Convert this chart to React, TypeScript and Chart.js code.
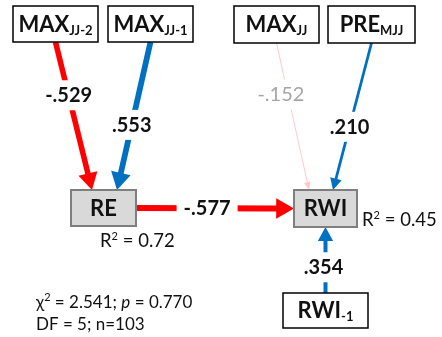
import { useEffect, useRef } from "react";
import { Chart, registerables } from "chart.js";

Chart.register(...registerables);

// ---- model data ----
const nodeNames = ["MAX", "MAX", "MAX", "PRE", "RE", "RWI", "RWI"];
const nodeSubscripts = ["JJ-2", "JJ-1", "JJ", "MJJ", "", "", "-1"];
const nodeEndogenous = [false, false, false, false, true, true, false];

const pathFrom = [0, 1, 2, 3, 4, 6];
const pathTo = [4, 4, 5, 5, 5, 5];
const pathCoefficients = [-0.529, 0.553, -0.152, 0.21, -0.577, 0.354];
const pathSignificant = [true, true, false, true, true, true];

const rSquaredNodes = [4, 5];
const rSquaredValues = [0.72, 0.45];

const fitChiSquare = 2.541;
const fitPValue = 0.77;
const fitDegreesOfFreedom = 5;
const fitSampleSize = 103;

// ---- layout (axis units) ----
const WIDTH = 442;
const HEIGHT = 337;
const boxCx = [55.5, 150.5, 276.5, 371.5, 103.5, 325.5, 325.5];
const boxCy = [24, 24, 24.5, 24.5, 208, 208.5, 310.5];
const boxW = [85, 85, 85, 87, 65, 63, 85];
const boxH = [36, 36, 37, 37, 36, 37, 35];
const pathExit = ["bottom", "bottom", "bottom", "bottom", "right", "top"];
const pathEntryShift = [-11.5, 13.5, -16.5, 7.5, 0, 0];
const pathLabelAt = [0.36, 0.56, 0.35, 0.57, 0.45, 0.39];
const pathLabelShift = [0, 0, -7, 0, 0, -2];
const rSquaredAnchor = [
  [100, 247],
  [362, 225.5],
];

const FAMILY = "Lato, 'Liberation Sans', sans-serif";
const RED = "#FF0000";
const BLUE = "#0070C0";
const PINK = "#FFC9C9";
const GREY_TEXT = "#A6A6A6";
const INK = "#111111";

type Side = "top" | "bottom" | "left" | "right";
const opposite: Record<Side, Side> = { top: "bottom", bottom: "top", left: "right", right: "left" };

function anchor(i: number, side: Side, shift: number) {
  const hw = boxW[i] / 2;
  const hh = boxH[i] / 2;
  switch (side) {
    case "top":
      return { x: boxCx[i] + shift, y: boxCy[i] - hh };
    case "bottom":
      return { x: boxCx[i] + shift, y: boxCy[i] + hh };
    case "left":
      return { x: boxCx[i] - hw, y: boxCy[i] + shift };
    default:
      return { x: boxCx[i] + hw, y: boxCy[i] + shift };
  }
}

function pathGeometry(k: number) {
  const exit = pathExit[k] as Side;
  const start = anchor(pathFrom[k], exit, 0);
  const end = anchor(pathTo[k], opposite[exit], pathEntryShift[k]);
  const c = pathCoefficients[k];
  const width = pathSignificant[k] ? 1 + Math.abs(c) * 8.5 : 1;
  const headLen = 6 + 2 * width;
  const headHalf = 2 + 1.4 * width;
  const color = pathSignificant[k] ? (c < 0 ? RED : BLUE) : PINK;
  return { start, end, width, headLen, headHalf, color };
}

function formatCoef(v: number) {
  return (v < 0 ? "-" : "") + Math.abs(v).toFixed(3).replace(/^0/, "");
}

type Run = { text: string; font: string; dy?: number };
function drawRuns(
  ctx: CanvasRenderingContext2D,
  runs: Run[],
  x: number,
  y: number,
  align: "left" | "center",
  color: string
) {
  let total = 0;
  const widths = runs.map((r) => {
    ctx.font = r.font;
    const w = ctx.measureText(r.text).width;
    total += w;
    return w;
  });
  let cx = align === "center" ? x - total / 2 : x;
  ctx.textAlign = "left";
  ctx.textBaseline = "alphabetic";
  ctx.fillStyle = color;
  runs.forEach((r, i) => {
    ctx.font = r.font;
    ctx.fillText(r.text, cx, y + (r.dy || 0));
    cx += widths[i];
  });
  return total;
}

const pathDatasets = pathCoefficients.map((_, k) => {
  const g = pathGeometry(k);
  const dx = g.end.x - g.start.x;
  const dy = g.end.y - g.start.y;
  const len = Math.hypot(dx, dy);
  const cut = g.headLen - 1;
  return {
    label: `${nodeNames[pathFrom[k]]}${nodeSubscripts[pathFrom[k]]} → ${nodeNames[pathTo[k]]}`,
    data: [
      { x: g.start.x, y: g.start.y },
      { x: g.end.x - (dx / len) * cut, y: g.end.y - (dy / len) * cut },
    ],
    showLine: true,
    borderColor: g.color,
    borderWidth: g.width,
    borderCapStyle: "butt" as const,
    pointRadius: 0,
    pointHoverRadius: 0,
  };
});

const diagramPlugin = {
  id: "pathDiagram",
  afterDatasetsDraw(chart: any) {
    const ctx: CanvasRenderingContext2D = chart.ctx;
    const xs = chart.scales.x;
    const ys = chart.scales.y;
    const px = (x: number) => xs.getPixelForValue(x);
    const py = (y: number) => ys.getPixelForValue(y);
    ctx.save();

    // arrow heads and coefficient labels
    pathCoefficients.forEach((c, k) => {
      const g = pathGeometry(k);
      const tx = px(g.end.x);
      const ty = py(g.end.y);
      const sx = px(g.start.x);
      const sy = py(g.start.y);
      const len = Math.hypot(tx - sx, ty - sy);
      const ux = (tx - sx) / len;
      const uy = (ty - sy) / len;
      const bx = tx - ux * g.headLen;
      const by = ty - uy * g.headLen;
      ctx.beginPath();
      ctx.moveTo(tx, ty);
      ctx.lineTo(bx - uy * g.headHalf, by + ux * g.headHalf);
      ctx.lineTo(bx + uy * g.headHalf, by - ux * g.headHalf);
      ctx.closePath();
      ctx.fillStyle = g.color;
      ctx.fill();

      const t = pathLabelAt[k];
      const lx = sx + (tx - sx) * t + pathLabelShift[k];
      const ly = sy + (ty - sy) * t;
      const text = formatCoef(c);
      const font = pathSignificant[k] ? `bold 20px ${FAMILY}` : `20px ${FAMILY}`;
      ctx.font = font;
      const w = ctx.measureText(text).width;
      ctx.fillStyle = "#ffffff";
      ctx.fillRect(lx - w / 2 - 7, ly - 15, w + 14, 30);
      ctx.textAlign = "center";
      ctx.textBaseline = "alphabetic";
      ctx.fillStyle = pathSignificant[k] ? INK : GREY_TEXT;
      ctx.fillText(text, lx, ly + 7);
    });

    // variable boxes
    nodeNames.forEach((name, i) => {
      const x0 = px(boxCx[i] - boxW[i] / 2);
      const x1 = px(boxCx[i] + boxW[i] / 2);
      const y0 = py(boxCy[i] - boxH[i] / 2);
      const y1 = py(boxCy[i] + boxH[i] / 2);
      ctx.fillStyle = nodeEndogenous[i] ? "#D9D9D9" : "#ffffff";
      ctx.fillRect(x0, y0, x1 - x0, y1 - y0);
      ctx.lineWidth = nodeEndogenous[i] ? 2 : 1.5;
      ctx.strokeStyle = nodeEndogenous[i] ? "#7F7F7F" : "#000000";
      ctx.strokeRect(x0, y0, x1 - x0, y1 - y0);
      const runs: Run[] = [{ text: name, font: `bold 22px ${FAMILY}` }];
      if (nodeSubscripts[i]) runs.push({ text: nodeSubscripts[i], font: `bold 13px ${FAMILY}`, dy: 3 });
      drawRuns(ctx, runs, (x0 + x1) / 2, (y0 + y1) / 2 + 7.5, "center", INK);
    });

    // explained variance
    rSquaredNodes.forEach((_, j) => {
      const [ax, ay] = rSquaredAnchor[j];
      drawRuns(
        ctx,
        [
          { text: "R", font: `18.5px ${FAMILY}` },
          { text: "2", font: `11px ${FAMILY}`, dy: -7 },
          { text: ` = ${rSquaredValues[j].toFixed(2)}`, font: `18.5px ${FAMILY}` },
        ],
        px(ax),
        py(ay),
        "left",
        INK
      );
    });

    // model fit
    drawRuns(
      ctx,
      [
        { text: "χ", font: `17px ${FAMILY}` },
        { text: "2", font: `11px ${FAMILY}`, dy: -7 },
        { text: ` = ${fitChiSquare.toFixed(3)}; `, font: `17px ${FAMILY}` },
        { text: "p", font: `italic 17px ${FAMILY}` },
        { text: ` = ${fitPValue.toFixed(3)}`, font: `17px ${FAMILY}` },
      ],
      px(36),
      py(308),
      "left",
      INK
    );
    drawRuns(
      ctx,
      [{ text: `DF = ${fitDegreesOfFreedom}; n=${fitSampleSize}`, font: `17px ${FAMILY}` }],
      px(36),
      py(330),
      "left",
      INK
    );
    ctx.restore();
  },
};

export default function App() {
  const canvasRef = useRef<HTMLCanvasElement>(null);
  useEffect(() => {
    document.body.style.margin = "0";
    const chart = new Chart(canvasRef.current!, {
      type: "scatter",
      data: { datasets: pathDatasets as any },
      options: {
        responsive: false,
        animation: false,
        events: [],
        layout: { padding: 0 },
        plugins: { legend: { display: false }, tooltip: { enabled: false } },
        scales: {
          x: { type: "linear", min: 0, max: WIDTH, display: false },
          y: { type: "linear", min: 0, max: HEIGHT, reverse: true, display: false },
        },
      },
      plugins: [diagramPlugin],
    });
    return () => chart.destroy();
  }, []);
  return (
    <div style={{ width: WIDTH, height: HEIGHT, background: "#ffffff" }}>
      <canvas ref={canvasRef} width={WIDTH} height={HEIGHT} style={{ display: "block" }} />
    </div>
  );
}
